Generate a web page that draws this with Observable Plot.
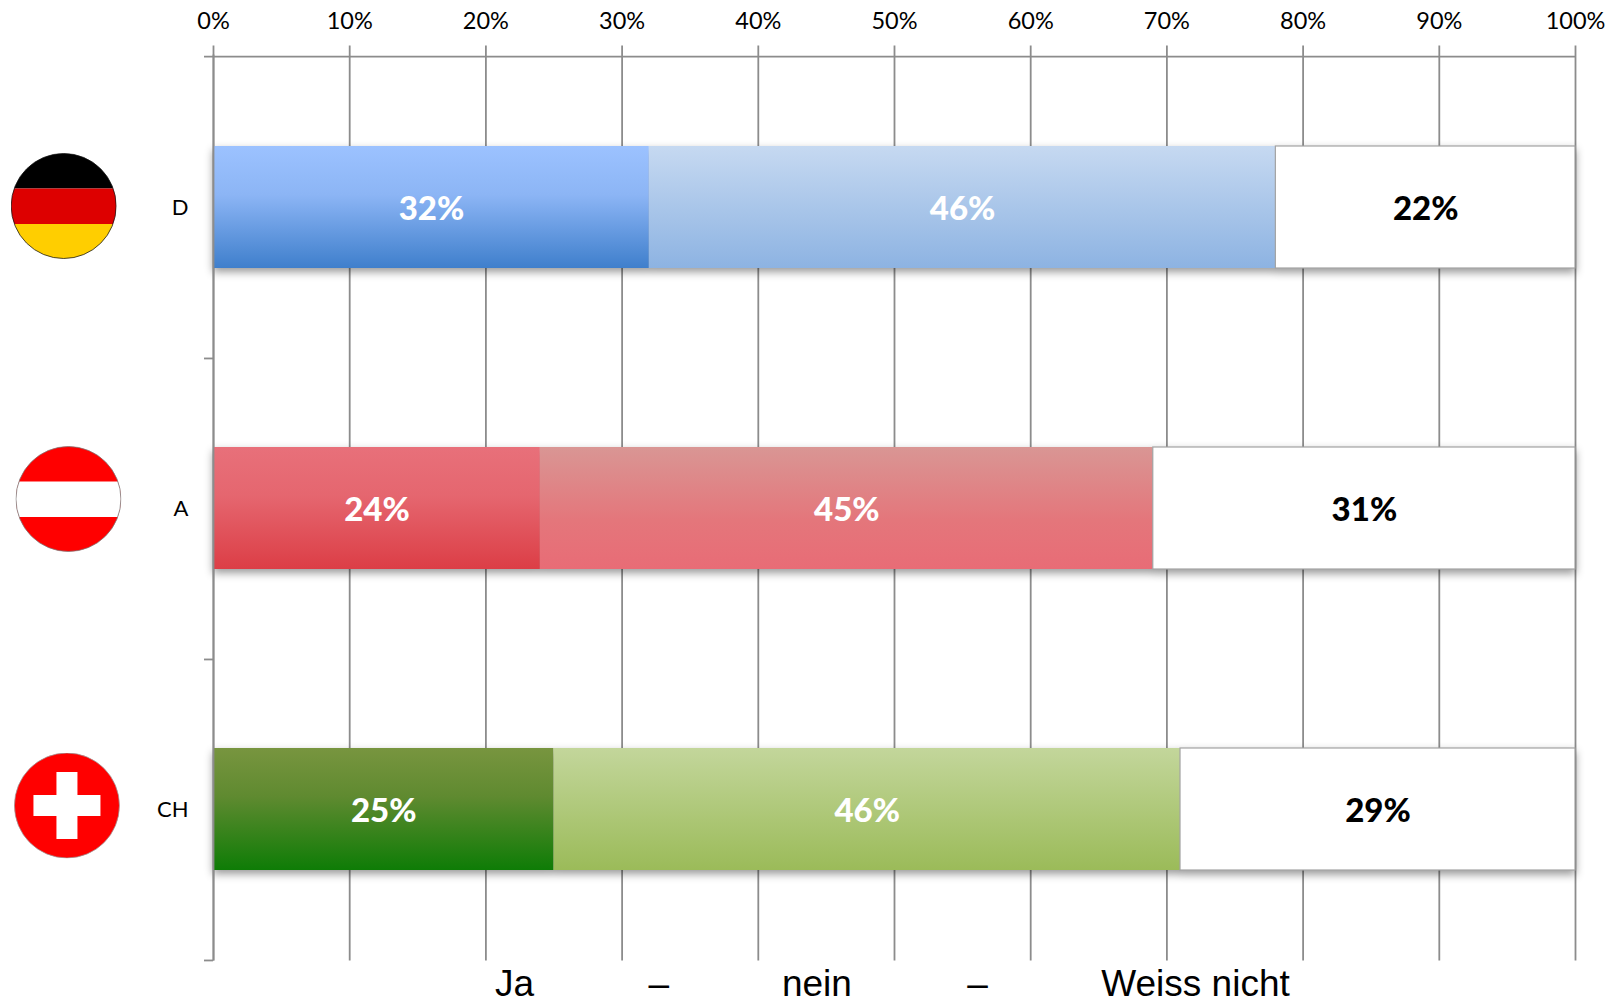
<!DOCTYPE html>
<html lang="de">
<head>
<meta charset="utf-8">
<script src="https://cdn.jsdelivr.net/npm/d3@7"></script>
<script src="https://cdn.jsdelivr.net/npm/@observablehq/plot@0.6"></script>
<style>
html,body{margin:0;padding:0;background:#fff;overflow:hidden}
svg{display:block}
</style>
</head>
<body>
<div id="chart"></div>
<script>
const countries = ["D", "A", "CH"];
const answers = ["Ja", "nein", "Weiss nicht"];
const jaValues = [32, 24, 25];
const neinValues = [46, 45, 46];
const weissValues = [22, 31, 29];
const xTicks = [0, 10, 20, 30, 40, 50, 60, 70, 80, 90, 100];
const footerLabels = ["Ja", "–", "nein", "–", "Weiss nicht"];
const footerPositions = [22.1, 32.7, 44.3, 56.1, 72.1];

const gradients = {
  "D-Ja": [["0%", "#9cc2ff"], ["40%", "#8cb5f5"], ["100%", "#3f7fcc"]],
  "D-nein": [["0%", "#c6d9f1"], ["100%", "#8db3e2"]],
  "A-Ja": [["0%", "#e8707a"], ["40%", "#e5666f"], ["100%", "#dc3e46"]],
  "A-nein": [["0%", "#d99694"], ["60%", "#e4767b"], ["100%", "#e86c76"]],
  "CH-Ja": [["0%", "#78953f"], ["40%", "#5f8a30"], ["100%", "#0e7c06"]],
  "CH-nein": [["0%", "#c3d69b"], ["100%", "#9bbb59"]]
};

const svgUri = s => "data:image/svg+xml," + encodeURIComponent(
  `<svg xmlns="http://www.w3.org/2000/svg" viewBox="0 0 212 212"><defs><clipPath id="c"><circle cx="106" cy="106" r="105"/></clipPath></defs>${s}</svg>`);
const flags = [
  {x: -11.0, dy: -1.5, src: svgUri(`<g clip-path="url(#c)"><rect width="212" height="71" fill="#000"/><rect y="71" width="212" height="72" fill="#dd0000"/><rect y="142" width="212" height="70" fill="#ffce00"/></g><circle cx="106" cy="106" r="105" fill="none" stroke="#111" stroke-width="1.5"/>`)},
  {x: -10.65, dy: -9.5, src: svgUri(`<g clip-path="url(#c)"><rect width="212" height="212" fill="#ff0000"/><rect y="71" width="212" height="71" fill="#fff"/></g><circle cx="106" cy="106" r="105" fill="none" stroke="#777" stroke-width="1.5"/>`)},
  {x: -10.76, dy: -4, src: svgUri(`<g clip-path="url(#c)"><rect width="212" height="212" fill="#ff0000"/><rect x="85" y="39" width="42" height="134" fill="#fff"/><rect x="39" y="85" width="134" height="42" fill="#fff"/></g><circle cx="106" cy="106" r="105" fill="none" stroke="#999" stroke-width="1.5"/>`)}
];

const rows = countries.flatMap((c, i) => {
  const vals = [jaValues[i], neinValues[i], weissValues[i]];
  let start = 0;
  return vals.map((v, j) => {
    const row = {country: c, answer: answers[j], value: v, x1: start, x2: start + v};
    start += v;
    return row;
  });
});

const W = 1619, H = 1001, mT = 54.6, mB = 40.6, mL = 213, mR = 44;
const step = (H - mT - mB) / 3;
const axisColor = "#8c8c8c";
const sans = "Lato, 'Open Sans', sans-serif";

const defs = () => {
  const d = d3.create("svg:defs");
  for (const [id, stops] of Object.entries(gradients)) {
    const g = d.append("linearGradient").attr("id", "g-" + id)
      .attr("x1", 0).attr("y1", 0).attr("x2", 0).attr("y2", 1);
    for (const [o, c] of stops) g.append("stop").attr("offset", o).attr("stop-color", c);
  }
  return d.node();
};

const plot = Plot.plot({
  width: W, height: H,
  marginTop: mT, marginBottom: mB, marginLeft: mL, marginRight: mR,
  style: {fontFamily: sans, background: "#fff", overflow: "visible"},
  x: {domain: [0, 100], axis: null},
  y: {domain: countries, paddingInner: 0.596, paddingOuter: 0.298, axis: null},
  color: {type: "identity"},
  marks: [
    defs,
    Plot.ruleX(xTicks, {stroke: axisColor, strokeWidth: 1.8, insetTop: -9}),
    Plot.ruleY([countries[0]], {x1: -0.66, x2: 100, dy: -step / 2, stroke: axisColor, strokeWidth: 1.8}),
    Plot.ruleY(countries, {x1: -0.66, x2: 0, dy: step / 2, stroke: axisColor, strokeWidth: 1.8}),
    Plot.barX(rows, {
      x1: "x1", x2: "x2", y: "country",
      fill: d => d.answer === "Weiss nicht" ? "#ffffff" : `url(#g-${d.country}-${d.answer})`,
      stroke: d => d.answer === "Weiss nicht" ? "#a3a3a3" : "none",
      strokeWidth: 1.2,
      imageFilter: "drop-shadow(0px 4px 4px rgba(0,0,0,0.4))"
    }),
    Plot.ruleX([0], {stroke: axisColor, strokeWidth: 1.8}),
    Plot.axisX(xTicks, {
      anchor: "top", tickSize: 0, tickPadding: 25.6, label: null, fontSize: 23.5,
      tickFormat: d => d + "%", fill: "#000", stroke: "none"
    }),
    Plot.text(countries, {
      y: d => d, frameAnchor: "left", textAnchor: "end", dx: -25, dy: 0.5,
      fontSize: 22, fill: "#000", text: d => d
    }),
    Plot.text(rows, {
      x: d => (d.x1 + d.x2) / 2, y: "country", dy: 2,
      text: d => d.value + "%",
      fontSize: 33, fontWeight: 900,
      fill: d => d.answer === "Weiss nicht" ? "#000" : "#fff"
    }),
    ...flags.map(f => Plot.image([f], {
      x: "x", y: d => countries[flags.indexOf(d)], dy: f.dy,
      src: f.src, width: 106, height: 106
    })),
    Plot.text(footerLabels, {
      x: (d, i) => footerPositions[i], frameAnchor: "bottom", dy: 35,
      text: d => d, fontSize: 37, fontFamily: "'Liberation Sans', Arial, sans-serif",
      fill: "#000", lineAnchor: "bottom"
    })
  ]
});
document.getElementById("chart").appendChild(plot);
</script>
</body>
</html>
